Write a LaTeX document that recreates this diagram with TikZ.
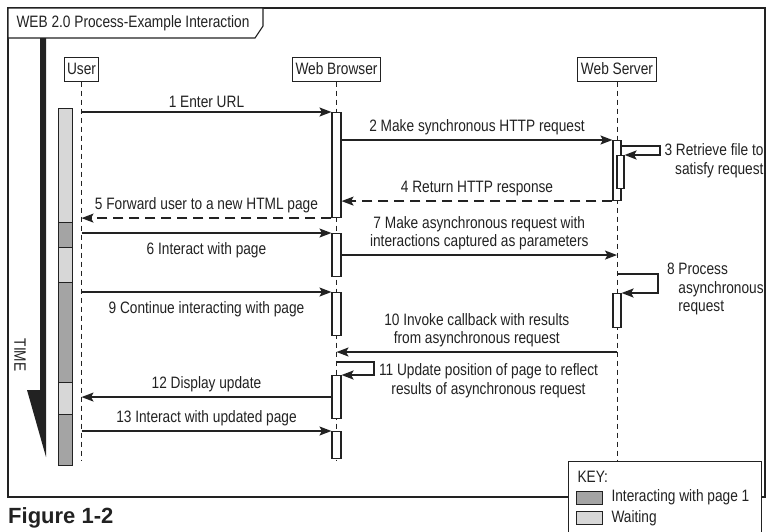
\documentclass[tikz,border=0pt]{standalone}
\usepackage{fontspec}
\setmainfont[FakeStretch=0.83]{Liberation Sans}
\newfontfamily\figfont{Liberation Sans}
\usetikzlibrary{arrows.meta, positioning}

\definecolor{busy}{HTML}{A4A4A4}
\definecolor{idle}{HTML}{D7D7D7}
\definecolor{ink}{HTML}{222222}

\tikzset{
  every node/.style={font=\fontsize{16.5}{18.5}\selectfont, text=ink},
  head/.style={draw=ink, line width=1pt, fill=white, minimum height=24pt, inner xsep=3pt, inner ysep=0pt},
  lifeline/.style={draw=ink, line width=0.9pt, dash pattern=on 5pt off 4pt},
  act/.style={draw=ink, line width=1.1pt, fill=white, minimum width=9pt, inner sep=0pt, anchor=north},
  msg/.style={draw=ink, line width=1.5pt, -{Stealth[length=12pt,width=9pt,inset=2.5pt]}},
  reply/.style={msg, dash pattern=on 10pt off 6pt},
  selfmsg/.style={msg, line width=2pt},
  lbl/.style={inner sep=0pt, align=center},
  keybox/.style={draw=ink, line width=1pt, minimum width=26pt, minimum height=13pt, inner sep=0pt, anchor=north west},
}

\begin{document}
\begin{tikzpicture}[x=1pt, y=-1pt]
\useasboundingbox (0,0) rectangle (767,531);

% frame with title tab
\draw[ink, line width=1.1pt] (8,8) rectangle (765,497);
\draw[ink, line width=1.1pt, fill=white] (8,8) -- (263,8) -- (263,26) -- (255,38) -- (8,38) -- cycle;
\node[anchor=west] (title) at (13,23) {WEB 2.0 Process-Example Interaction};

% time arrow
\fill[ink] (40,38) -- (46,38) -- (46,457) -- (27,390) -- (40,390) -- cycle;
\node[rotate=-90] (time) at (20,355) {TIME};

% user state bar
\foreach \ya/\yb/\col in {108/222/idle, 222/247/busy, 247/282/idle, 282/382/busy, 382/414/idle, 414/465/busy}
  \draw[ink, line width=1pt, fill=\col] (58,\ya) rectangle (72,\yb);

% lifelines
\node[head] (user) at (81.5,69) {User};
\node[head] (browser) at (336.5,69) {Web Browser};
\node[head] (server) at (617,69) {Web Server};
\foreach \who in {user, browser, server}
  \draw[lifeline] (\who.south) -- ++(0,379);

% activations
\node[act, minimum height=105pt] (a1) at (336.5,112) {};
\node[act, minimum height=43pt] (a2) at (336.5,233) {};
\node[act, minimum height=43pt] (a3) at (336.5,292) {};
\node[act, minimum height=43pt] (a4) at (336.5,375) {};
\node[act, minimum height=27pt] (a5) at (336.5,431) {};
\node[act, minimum width=8pt, minimum height=60pt] (s1) at (617,140) {};
\node[act, minimum width=7pt, minimum height=33pt] (s2) at (620.5,155) {};
\node[act, minimum width=8pt, minimum height=34pt] (s3) at (617,293) {};

\coordinate (t8) at (0,274);
\coordinate (t10) at (0,352);
\coordinate (t11) at (0,362);

% messages
\draw[msg] (a1.north west -| user) -- (a1.north west)
  node[lbl, midway, above=4pt] (m1) {1 Enter URL};
\draw[msg] (a1.east |- s1.north) -- (s1.north west)
  node[lbl, midway, above=4pt] (m2) {2 Make synchronous HTTP request};
\draw[selfmsg] ([yshift=-6pt]s1.north east) -- ++(38,0)
  node[lbl, align=right, anchor=north west, xshift=4pt, yshift=3pt] (m3) {3 Retrieve file to\\satisfy request}
  |- (s2.north east);
\draw[reply] (s1.south west) -- (s1.south west -| a1.east)
  node[lbl, midway, above=4pt] (m4) {4 Return HTTP response};
\draw[reply] (a1.south west) -- (a1.south west -| user)
  node[lbl, midway, above=4pt] (m5) {5 Forward user to a new HTML page};
\draw[msg] (a2.north west -| user) -- (a2.north west)
  node[lbl, midway, below=9pt] (m6) {6 Interact with page};
\draw[msg] (a2.east) -- (a2.east -| server)
  node[lbl, midway, above=4pt] (m7) {7 Make asynchronous request with\\interactions captured as parameters};
\draw[selfmsg] (t8 -| server) -- ++(41,0)
  node[lbl, align=left, anchor=north west, xshift=8pt, yshift=12pt] (m8) {8 Process\\\phantom{8 }asynchronous\\\phantom{8 }request}
  |- (s3.north east);
\draw[msg] (a3.north west -| user) -- (a3.north west)
  node[lbl, midway, below=9pt] (m9) {9 Continue interacting with page};
\draw[msg] (t10 -| server) -- (t10 -| browser)
  node[lbl, midway, above=4pt] (m10) {10 Invoke callback with results\\from asynchronous request};
\draw[selfmsg] (t11 -| browser) -- ++(37,0)
  node[lbl, anchor=north west, xshift=4.5pt, yshift=-1pt] (m11) {11 Update position of page to reflect\\results of asynchronous request}
  |- (a4.north east);
\draw[msg] (a4.west) -- (a4.west -| user)
  node[lbl, midway, above=4pt] (m12) {12 Display update};
\draw[msg] (a5.north west -| user) -- (a5.north west)
  node[lbl, midway, above=4pt] (m13) {13 Interact with updated page};

% key
\draw[ink, line width=1pt, fill=white] (568,540) -- (568,461) -- (761,461) -- (761,540);
\node[anchor=west] (keyttl) at (574,477) {KEY:};
\node[keybox, fill=busy] (kbusy) at (576,490.5) {};
\node[keybox, fill=idle] (kidle) at (576,511) {};
\node[right=5pt of kbusy] (kbusytxt) {Interacting with page 1};
\node[right=5pt of kidle] (kidletxt) {Waiting};

\node[anchor=base west, inner sep=0pt, font={\fontsize{22}{25}\figfont\bfseries}] (figlbl) at (8,523) {Figure 1-2};
\end{tikzpicture}
\end{document}
